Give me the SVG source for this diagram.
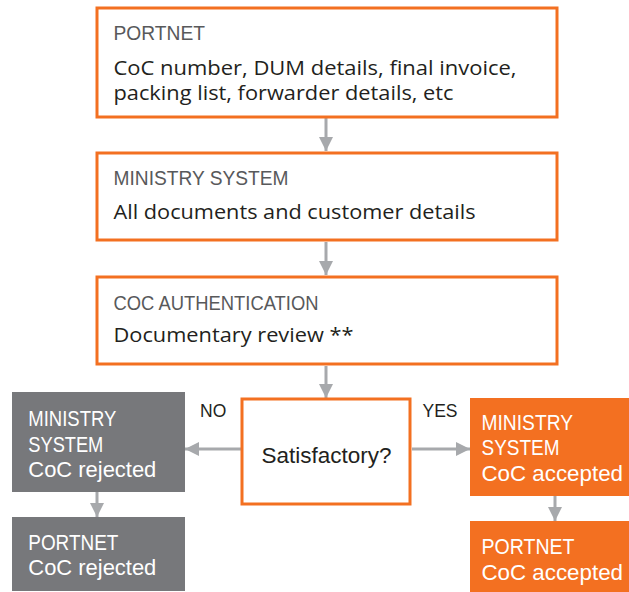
<svg xmlns="http://www.w3.org/2000/svg" width="629" height="592" viewBox="0 0 629 592">
<style>
.box{fill:#fff;stroke:#F37021;stroke-width:3}
.gray{fill:#77787B}
.orange{fill:#F37021}
.hd{font-family:"Liberation Sans",Arial,sans-serif;font-size:20px;fill:#58595B}
.bd{font-family:"Open Sans","Liberation Sans",sans-serif;font-size:20px;fill:#231F20}
.wh{font-family:"Liberation Sans",Arial,sans-serif;font-size:22px;fill:#fff}
.lbl{font-family:"Liberation Sans",Arial,sans-serif;font-size:17.5px;fill:#231F20}
.q{font-family:"Liberation Sans",Arial,sans-serif;font-size:22px;fill:#231F20}
.con{stroke:#A7A9AC;stroke-width:3;fill:none;marker-end:url(#ah)}
</style>
<defs>
<marker id="ah" markerUnits="userSpaceOnUse" markerWidth="14" markerHeight="14" refX="14" refY="7" orient="auto">
<path d="M0,0 L14,7 L0,14 z" fill="#A7A9AC"/>
</marker>
</defs>
<rect width="629" height="592" fill="#fff"/>
<g id="connectors">
<line class="con" x1="326" y1="118" x2="326" y2="151"/>
<line class="con" x1="326" y1="242" x2="326" y2="275"/>
<line class="con" x1="326" y1="366" x2="326" y2="398"/>
<line class="con" x1="241" y1="449" x2="185" y2="449"/>
<line class="con" x1="412" y1="449" x2="470" y2="449"/>
<line class="con" x1="97" y1="492" x2="97" y2="517"/>
<line class="con" x1="555" y1="496" x2="555" y2="521"/>
</g>
<g id="portnet">
<rect class="box" x="97" y="8" width="460" height="109"/>
<text class="hd" x="113.5" y="39.5" textLength="91.5" lengthAdjust="spacingAndGlyphs">PORTNET</text>
<text class="bd" x="113.5" y="75" textLength="403" lengthAdjust="spacingAndGlyphs">CoC number, DUM details, final invoice,</text>
<text class="bd" x="113.5" y="100" textLength="340" lengthAdjust="spacingAndGlyphs">packing list, forwarder details, etc</text>
</g>
<g id="ministry">
<rect class="box" x="97" y="153" width="460" height="87"/>
<text class="hd" x="113.5" y="185" textLength="175" lengthAdjust="spacingAndGlyphs">MINISTRY SYSTEM</text>
<text class="bd" x="113.5" y="218.5" textLength="362" lengthAdjust="spacingAndGlyphs">All documents and customer details</text>
</g>
<g id="coc-auth">
<rect class="box" x="97" y="277" width="460" height="87"/>
<text class="hd" x="113.5" y="310" textLength="205" lengthAdjust="spacingAndGlyphs">COC  AUTHENTICATION</text>
<text class="bd" x="113.5" y="341.5" textLength="240" lengthAdjust="spacingAndGlyphs">Documentary review **</text>
</g>
<g id="satisfactory">
<rect class="box" x="242" y="399" width="168" height="105"/>
<text class="q" x="326.5" y="463" text-anchor="middle" textLength="130" lengthAdjust="spacingAndGlyphs">Satisfactory?</text>
</g>
<g id="labels">
<text class="lbl" x="200" y="416.5">NO</text>
<text class="lbl" x="422.5" y="416.5">YES</text>
</g>
<g id="ministry-rejected">
<rect class="gray" x="12" y="392" width="173" height="100"/>
<text class="wh" x="28.3" y="426" textLength="88" lengthAdjust="spacingAndGlyphs">MINISTRY</text>
<text class="wh" x="28.3" y="451.5" textLength="75" lengthAdjust="spacingAndGlyphs">SYSTEM</text>
<text class="wh" x="28.3" y="476.5" textLength="128" lengthAdjust="spacingAndGlyphs">CoC rejected</text>
</g>
<g id="portnet-rejected">
<rect class="gray" x="12" y="517" width="173" height="74"/>
<text class="wh" x="28.3" y="549.5" textLength="90" lengthAdjust="spacingAndGlyphs">PORTNET</text>
<text class="wh" x="28.3" y="575" textLength="128" lengthAdjust="spacingAndGlyphs">CoC rejected</text>
</g>
<g id="ministry-accepted">
<rect class="orange" x="470" y="398" width="159" height="98"/>
<text class="wh" x="481.5" y="429.5" textLength="91.5" lengthAdjust="spacingAndGlyphs">MINISTRY</text>
<text class="wh" x="481.5" y="455" textLength="78" lengthAdjust="spacingAndGlyphs">SYSTEM</text>
<text class="wh" x="481.5" y="480.5" textLength="141.5" lengthAdjust="spacingAndGlyphs">CoC accepted</text>
</g>
<g id="portnet-accepted">
<rect class="orange" x="470" y="521" width="159" height="71"/>
<text class="wh" x="481.5" y="554" textLength="93" lengthAdjust="spacingAndGlyphs">PORTNET</text>
<text class="wh" x="481.5" y="580" textLength="141.5" lengthAdjust="spacingAndGlyphs">CoC accepted</text>
</g>
</svg>
